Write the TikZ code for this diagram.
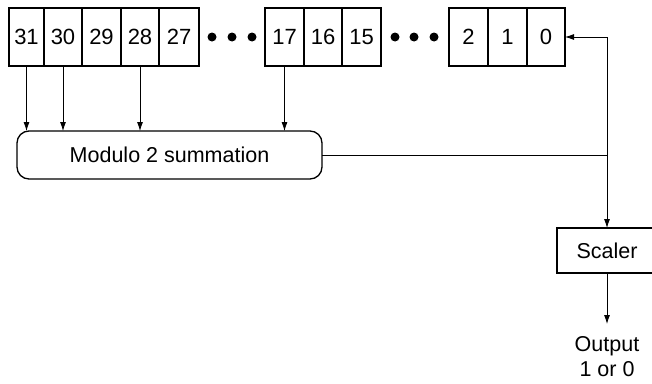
\documentclass[tikz,border=0pt]{standalone}
\usepackage{fontspec}
\setmainfont{Liberation Sans}
\usetikzlibrary{arrows.meta}
\begin{document}
\begin{tikzpicture}[x=1pt,y=-1pt,
  cell/.style={draw,line width=1.3pt,minimum height=58pt,inner sep=0pt,outer sep=0pt,font=\fontsize{22}{26}\selectfont},
  dot/.style={circle,fill=black,inner sep=0pt,minimum size=9pt},
  conn/.style={line width=0.8pt},
  arr/.style={conn,-{Latex[length=9pt,width=6pt]}},
  box/.style={draw,line width=1.3pt,inner sep=0pt,outer sep=0pt,font=\fontsize{21.5}{25}\selectfont}]
\useasboundingbox (0,0) rectangle (652,383);
% register cells
\node[cell,minimum width=35pt] (c31) at (26.5,37) {31};
\node[cell,minimum width=38pt] (c30) at (63,37) {30};
\node[cell,minimum width=39pt] (c29) at (101.5,37) {29};
\node[cell,minimum width=38pt] (c28) at (140,37) {28};
\node[cell,minimum width=40pt] (c27) at (179,37) {27};
\node[dot] (d1) at (212,37) {};
\node[dot] (d2) at (232,37) {};
\node[dot] (d3) at (252,37) {};
\node[cell,minimum width=39pt] (c17) at (284.5,37) {17};
\node[cell,minimum width=38pt] (c16) at (323,37) {16};
\node[cell,minimum width=39pt] (c15) at (361.5,37) {15};
\node[dot] (d4) at (395,37) {};
\node[dot] (d5) at (414,37) {};
\node[dot] (d6) at (434,37) {};
\node[cell,minimum width=39pt] (c2) at (468.5,37) {2};
\node[cell,minimum width=39pt] (c1) at (507.5,37) {1};
\node[cell,minimum width=38pt] (c0) at (546,37) {0};
% summation
\node[box,rounded corners=12pt,minimum width=305pt,minimum height=48pt] (sum) at (169.5,155) {Modulo 2 summation};
% scaler
\node[box,minimum width=100pt,minimum height=45pt] (scaler) at (607,250.5) {Scaler};
% output
\node[align=center,inner xsep=0pt,inner ysep=12pt,anchor=north,font=\fontsize{21.5}{25}\selectfont] (out) at (607,324) {Output\\1 or 0};
% taps
\draw[arr] (c31.south) -- (c31.south |- sum.north);
\draw[arr] (c30.south) -- (c30.south |- sum.north);
\draw[arr] (c28.south) -- (c28.south |- sum.north);
\draw[arr] (c17.south) -- (c17.south |- sum.north);
% feedback
\coordinate (J) at (scaler.north |- sum.east);
\draw[conn] (sum.east) -- (J);
\draw[arr] (J) |- (c0.east);
\draw[arr] (J) -- (scaler.north);
\draw[arr] (scaler.south) -- (out.north);
\end{tikzpicture}
\end{document}
